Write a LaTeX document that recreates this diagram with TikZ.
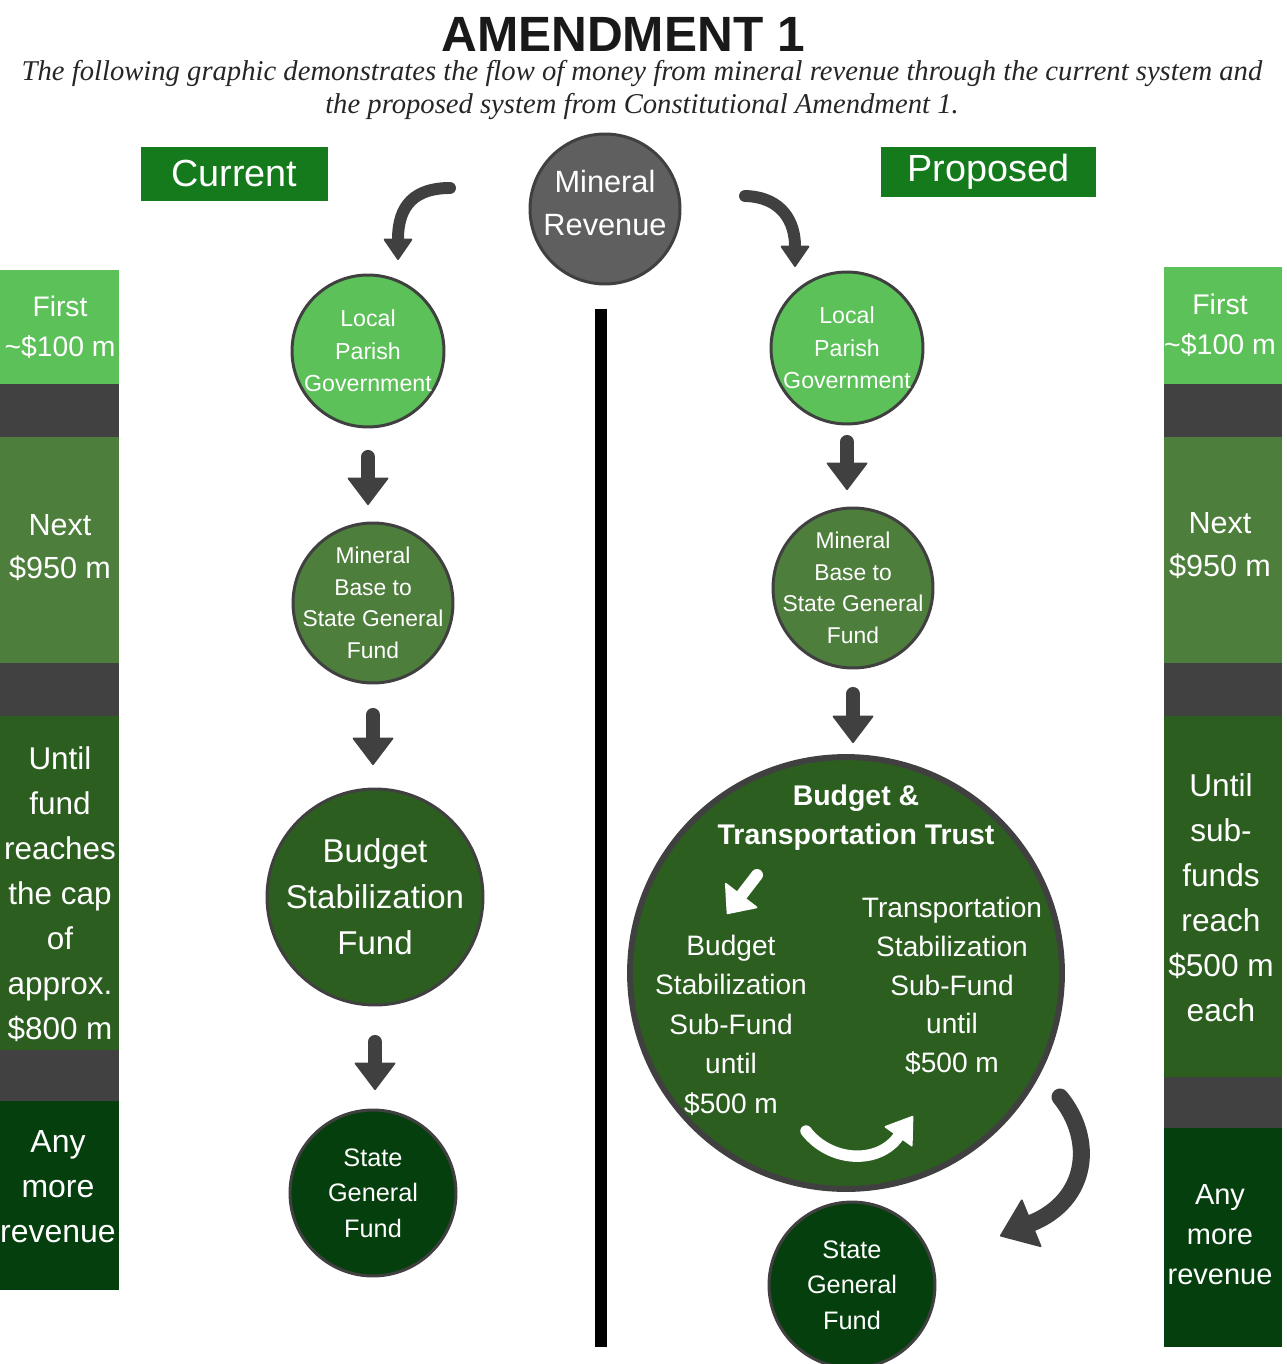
\documentclass[tikz,border=0pt]{standalone}
\usepackage{fontspec}
\setmainfont{Liberation Sans}
\newfontfamily\subfont{Liberation Serif}
\usetikzlibrary{arrows.meta}

\definecolor{lightgrn}{HTML}{5CC158}
\definecolor{midgrn}{HTML}{4E7E3C}
\definecolor{darkgrn}{HTML}{2C5E20}
\definecolor{deepgrn}{HTML}{063F0E}
\definecolor{bargray}{HTML}{414141}
\definecolor{arrgray}{HTML}{404040}
\definecolor{revgray}{HTML}{5F5F5F}
\definecolor{bannergrn}{HTML}{147A1B}

\newcommand{\fs}[2]{\fontsize{#1pt}{#2pt}\selectfont}

\tikzset{
  fund/.style={circle, draw=arrgray, line width=1.7pt, text=white, align=center, inner sep=-0.5cm},
  banner/.style={fill=bannergrn, text=white, font=\fs{21.5}{24}, inner sep=0pt},
  bartext/.style={text=white, align=center, inner sep=0pt},
  flow/.style={draw=arrgray, line width=8pt, line cap=round,
    -{Triangle[width=24pt,length=16pt,round,line width=1pt]}},
  cflow/.style={draw=arrgray, line width=6.8pt, line cap=round,
    -{Triangle[width=17pt,length=12.5pt,round,line width=1pt]}},
  bigflow/.style={draw=arrgray, line width=9.7pt, line cap=round,
    -{Triangle[width=30pt,length=20pt,round,line width=1pt]}},
  wflow/.style={draw=white, line width=6.8pt, line cap=round,
    -{Triangle[width=24pt,length=14pt,round,line width=1pt]}},
  wcflow/.style={draw=white, line width=6.5pt, line cap=round,
    -{Triangle[width=20pt,length=15pt,round,line width=1pt]}},
}

\begin{document}
\begin{tikzpicture}[x=0.02cm,y=-0.02cm]
\useasboundingbox (0,0) rectangle (1286,1364);

% title
\node[font=\bfseries\fs{28.2}{32}, text=black!90] (title) at (623,34) {AMENDMENT 1};
\node[font=\subfont\itshape\fs{16.3}{18.8}, text=black!85, align=center] (subtitle) at (642,90)
  {The following graphic demonstrates the flow of money from mineral revenue through the current system and\\
   the proposed system from Constitutional Amendment 1.};

% banners
\node[banner, minimum width=3.74cm, minimum height=1.08cm] (cur) at (234.5,174) {Current};
\node[banner, minimum width=4.3cm, minimum height=1cm] (prop) at (988.5,172) {Proposed};

% left bars
\fill[lightgrn] (0,270) rectangle (119,384);
\fill[bargray] (0,384) rectangle (119,437);
\fill[midgrn] (0,437) rectangle (119,663);
\fill[bargray] (0,663) rectangle (119,716);
\fill[darkgrn] (0,716) rectangle (119,1050);
\fill[bargray] (0,1050) rectangle (119,1101);
\fill[deepgrn] (0,1101) rectangle (119,1290);
\node[bartext, font=\fs{16.1}{22.8}] (lfirst) at (60,327) {First\\\textasciitilde\$100 m};
\node[bartext, font=\fs{17.4}{24.5}] (lnext) at (60,548) {Next\\\$950 m};
\node[bartext, font=\fs{17.9}{25.6}] (luntil) at (60,894) {Until\\fund\\reaches\\the cap\\of\\approx.\\\$800 m};
\node[bartext, font=\fs{18.2}{25.6}] (lany) at (58,1187) {Any\\more\\revenue};

% right bars
\fill[lightgrn] (1164,267) rectangle (1282,384);
\fill[bargray] (1164,384) rectangle (1282,437);
\fill[midgrn] (1164,437) rectangle (1282,663);
\fill[bargray] (1164,663) rectangle (1282,716);
\fill[darkgrn] (1164,716) rectangle (1282,1077);
\fill[bargray] (1164,1077) rectangle (1282,1128);
\fill[deepgrn] (1164,1128) rectangle (1282,1347);
\node[bartext, font=\fs{16.2}{22.8}] (rfirst) at (1220,325) {First\\\textasciitilde\$100 m};
\node[bartext, font=\fs{17.4}{24.5}] (rnext) at (1220,546) {Next\\\$950 m};
\node[bartext, font=\fs{18}{25.6}] (runtil) at (1221,898) {Until\\sub-\\funds\\reach\\\$500 m\\each};
\node[bartext, font=\fs{16.5}{22.8}] (rany) at (1220,1235) {Any\\more\\revenue};

% divider
\draw[line width=6.8pt] (601,309) -- (601,1347);

% source
\node[fund, fill=revgray, minimum size=3cm] (mr) at (605,209) {};
\node[bartext, font=\fs{17.5}{24.5}] (mrtext) at (605,203) {Mineral\\Revenue};

% current system
\node[fund, fill=lightgrn, minimum size=3.04cm, font=\fs{13.2}{18.5}] (lpg) at (368,351) {Local\\Parish\\Government};
\node[fund, fill=midgrn, minimum size=3.2cm, font=\fs{13}{17.9}] (lmb) at (373,603) {Mineral\\Base to\\State General\\Fund};
\node[fund, fill=darkgrn, minimum size=4.32cm, font=\fs{18.8}{26.2}] (lbsf) at (375,897) {Budget\\Stabilization\\Fund};
\node[fund, fill=deepgrn, minimum size=3.32cm, font=\fs{14.4}{20.2}] (lsgf) at (373,1193) {State\\General\\Fund};

% proposed system
\node[fund, fill=lightgrn, minimum size=3.04cm, font=\fs{13.2}{18.5}] (rlpg) at (847,348) {Local\\Parish\\Government};
\node[fund, fill=midgrn, minimum size=3.2cm, font=\fs{13}{17.9}] (rmb) at (853,588) {Mineral\\Base to\\State General\\Fund};
\node[fund, fill=darkgrn, line width=3.4pt, minimum size=8.64cm] (btt) at (846,973) {};
\node[fund, fill=deepgrn, minimum size=3.32cm, font=\fs{14.4}{20.2}] (rsgf) at (852,1285) {State\\General\\Fund};

% inside the trust
\node[bartext, font=\bfseries\fs{16.2}{22.2}] (btttitle) at (856,818) {Budget \&\\Transportation Trust};
\node[bartext, font=\fs{16}{22.5}] (bsub) at (731,1025) {Budget\\Stabilization\\Sub-Fund\\until\\\$500 m};
\node[bartext, font=\fs{16}{22}] (tsub) at (952,986) {Transportation\\Stabilization\\Sub-Fund\\until\\\$500 m};

% flow arrows
\coordinate (ltop) at (450,188);
\coordinate (ltip) at (398,260);
\coordinate (rtop) at (745,196);
\coordinate (rtip) at (795,267);
\draw[cflow] (ltop) .. controls (415,188) and (398,205) .. (ltip);
\draw[cflow] (rtop) .. controls (782,197) and (795,222) .. (rtip);
\draw[flow, shorten <=0.57cm, shorten >=0.33cm] (lpg.south) -- (lpg.south |- lmb.north);
\draw[flow, shorten <=0.61cm, shorten >=0.45cm] (lmb.south) -- (lmb.south |- lbsf.north);
\draw[flow, shorten <=0.71cm, shorten >=0.37cm] (lbsf.south) -- (lbsf.south |- lsgf.north);
\draw[flow, shorten <=0.33cm, shorten >=0.33cm] (rlpg.south) -- (rlpg.south |- rmb.north);
\draw[flow, shorten <=0.49cm, shorten >=0.22cm] (rmb.south) -- (rmb.south |- btt.north);
\coordinate (bttout) at (1060,1097);
\coordinate (sgfin) at (1000,1236);
\draw[bigflow] (bttout) .. controls (1095,1140) and (1088,1200) .. (sgfin);

% white arrows in the trust
\coordinate (wtop) at (757,875);
\coordinate (wtip) at (727,914);
\draw[wflow] (wtop) -- (wtip);
\coordinate (wstart) at (806,1131);
\coordinate (wend) at (913,1116);
\draw[wcflow] (wstart) .. controls (830,1162) and (878,1165) .. (wend);

\end{tikzpicture}
\end{document}
